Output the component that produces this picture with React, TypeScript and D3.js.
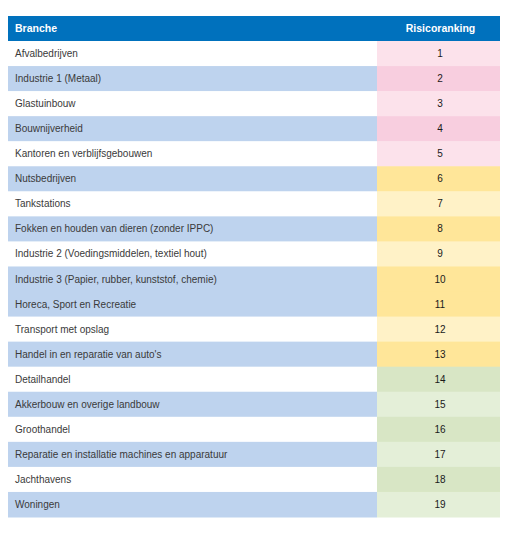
import React from "react";
import * as d3 from "d3";

const branches = [
  "Afvalbedrijven",
  "Industrie 1 (Metaal)",
  "Glastuinbouw",
  "Bouwnijverheid",
  "Kantoren en verblijfsgebouwen",
  "Nutsbedrijven",
  "Tankstations",
  "Fokken en houden van dieren (zonder IPPC)",
  "Industrie 2 (Voedingsmiddelen, textiel hout)",
  "Industrie 3 (Papier, rubber, kunststof, chemie)",
  "Horeca, Sport en Recreatie",
  "Transport met opslag",
  "Handel in en reparatie van auto's",
  "Detailhandel",
  "Akkerbouw en overige landbouw",
  "Groothandel",
  "Reparatie en installatie machines en apparatuur",
  "Jachthavens",
  "Woningen",
];
const rankings = [1, 2, 3, 4, 5, 6, 7, 8, 9, 10, 11, 12, 13, 14, 15, 16, 17, 18, 19];
// shade: 1 = darker band, 0 = lighter band
const leftShade = [0, 1, 0, 1, 0, 1, 0, 1, 0, 1, 1, 0, 1, 0, 1, 0, 1, 0, 1];
const rightShade = [0, 1, 0, 1, 0, 1, 0, 1, 0, 1, 1, 0, 1, 1, 0, 1, 0, 1, 0];
const riskGroup = [0, 0, 0, 0, 0, 1, 1, 1, 1, 1, 1, 1, 1, 2, 2, 2, 2, 2, 2];
const headers = ["Branche", "Risicoranking"];

const groupColors = [
  ["#FCE2EB", "#F8CEDF"],
  ["#FFF2C7", "#FFE699"],
  ["#E4EFD8", "#D8E6C5"],
];
const leftColors = ["#FFFFFF", "#BED3EE"];

export default function App() {
  const x0 = 8, x1 = 377, x2 = 500;
  const headerTop = 16, headerH = 25;
  const y = d3
    .scaleBand<number>()
    .domain(d3.range(branches.length))
    .range([headerTop + headerH, 517])
    .paddingInner(0);
  const bw = y.bandwidth();
  const font = "Tahoma, 'DejaVu Sans', 'Liberation Sans', sans-serif";
  return (
    <svg
      width={510}
      height={533}
      style={{ position: "absolute", left: 0, top: 0 }}
      fontFamily="'Liberation Sans', Arial, sans-serif"
    >
      <rect x={x0} y={headerTop} width={x2 - x0} height={headerH} fill="#0071BD" />
      <text x={15} y={headerTop + headerH / 2} dy="0.35em" fill="#fff" fontWeight="bold" fontSize={10.5}>
        {headers[0]}
      </text>
      <text
        x={(x1 + x2) / 2 + 2}
        y={headerTop + headerH / 2}
        dy="0.35em"
        fill="#fff"
        fontWeight="bold"
        fontSize={10.5}
        textAnchor="middle"
      >
        {headers[1]}
      </text>
      {branches.map((b, i) => {
        const yy = y(i)!;
        return (
          <g key={b}>
            <rect x={x0} y={yy} width={x1 - x0} height={bw + 0.5} fill={leftColors[leftShade[i]]} />
            <rect
              x={x1}
              y={yy}
              width={x2 - x1}
              height={bw + 0.5}
              fill={groupColors[riskGroup[i]][rightShade[i]]}
            />
            <text x={15} y={yy + bw / 2} dy="0.35em" fill="#3a3a3a" fontSize={10}>
              {b}
            </text>
            <text
              x={(x1 + x2) / 2 + 1.5}
              y={yy + bw / 2}
              dy="0.35em"
              fill="#1a1a1a"
              fontSize={10}
              textAnchor="middle"
            >
              {rankings[i]}
            </text>
          </g>
        );
      })}
    </svg>
  );
}
